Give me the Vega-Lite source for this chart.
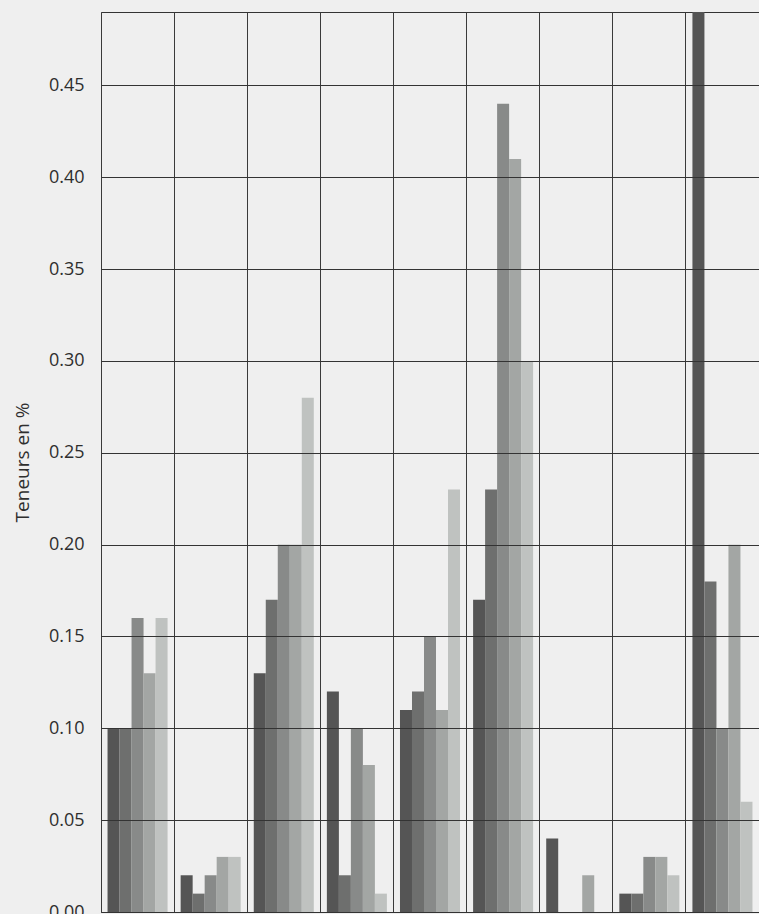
{
  "$schema": "https://vega.github.io/schema/vega-lite/v6.json",
  "width": 658,
  "height": 900,
  "autosize": {"type": "none"},
  "padding": {"left": 101, "top": 12, "right": 0, "bottom": 2},
  "background": "#efefef",
  "config": {
    "view": {"stroke": "#333333", "strokeWidth": 1},
    "font": "Open Sans"
  },
  "data": {
    "values": [
      {"group": "G1", "series": "S1", "value": 0.10},
      {"group": "G1", "series": "S2", "value": 0.10},
      {"group": "G1", "series": "S3", "value": 0.16},
      {"group": "G1", "series": "S4", "value": 0.13},
      {"group": "G1", "series": "S5", "value": 0.16},
      {"group": "G2", "series": "S1", "value": 0.02},
      {"group": "G2", "series": "S2", "value": 0.01},
      {"group": "G2", "series": "S3", "value": 0.02},
      {"group": "G2", "series": "S4", "value": 0.03},
      {"group": "G2", "series": "S5", "value": 0.03},
      {"group": "G3", "series": "S1", "value": 0.13},
      {"group": "G3", "series": "S2", "value": 0.17},
      {"group": "G3", "series": "S3", "value": 0.20},
      {"group": "G3", "series": "S4", "value": 0.20},
      {"group": "G3", "series": "S5", "value": 0.28},
      {"group": "G4", "series": "S1", "value": 0.12},
      {"group": "G4", "series": "S2", "value": 0.02},
      {"group": "G4", "series": "S3", "value": 0.10},
      {"group": "G4", "series": "S4", "value": 0.08},
      {"group": "G4", "series": "S5", "value": 0.01},
      {"group": "G5", "series": "S1", "value": 0.11},
      {"group": "G5", "series": "S2", "value": 0.12},
      {"group": "G5", "series": "S3", "value": 0.15},
      {"group": "G5", "series": "S4", "value": 0.11},
      {"group": "G5", "series": "S5", "value": 0.23},
      {"group": "G6", "series": "S1", "value": 0.17},
      {"group": "G6", "series": "S2", "value": 0.23},
      {"group": "G6", "series": "S3", "value": 0.44},
      {"group": "G6", "series": "S4", "value": 0.41},
      {"group": "G6", "series": "S5", "value": 0.30},
      {"group": "G7", "series": "S1", "value": 0.04},
      {"group": "G7", "series": "S2", "value": 0.0},
      {"group": "G7", "series": "S3", "value": 0.0},
      {"group": "G7", "series": "S4", "value": 0.02},
      {"group": "G7", "series": "S5", "value": 0.0},
      {"group": "G8", "series": "S1", "value": 0.01},
      {"group": "G8", "series": "S2", "value": 0.01},
      {"group": "G8", "series": "S3", "value": 0.03},
      {"group": "G8", "series": "S4", "value": 0.03},
      {"group": "G8", "series": "S5", "value": 0.02},
      {"group": "G9", "series": "S1", "value": 0.49},
      {"group": "G9", "series": "S2", "value": 0.18},
      {"group": "G9", "series": "S3", "value": 0.10},
      {"group": "G9", "series": "S4", "value": 0.20},
      {"group": "G9", "series": "S5", "value": 0.06}
    ]
  },
  "mark": {"type": "bar", "clip": true},
  "encoding": {
    "x": {
      "field": "group",
      "type": "nominal",
      "scale": {"paddingInner": 0, "paddingOuter": 0},
      "axis": {
        "title": null,
        "labels": false,
        "ticks": false,
        "domain": false,
        "grid": true,
        "bandPosition": 0,
        "gridColor": "#3a3a3a",
        "gridOpacity": 1,
        "gridWidth": 1,
        "zindex": 1
      }
    },
    "xOffset": {
      "field": "series",
      "type": "nominal",
      "scale": {"paddingInner": 0, "paddingOuter": 0.545}
    },
    "y": {
      "field": "value",
      "type": "quantitative",
      "scale": {"domain": [0, 0.49], "nice": false, "zero": true},
      "axis": {
        "title": "Teneurs en %",
        "titleFont": "Open Sans",
        "titleFontSize": 19,
        "titleFontWeight": "normal",
        "titleColor": "#2e2e2e",
        "titlePadding": 16,
        "values": [0, 0.05, 0.1, 0.15, 0.2, 0.25, 0.3, 0.35, 0.4, 0.45],
        "format": ".2f",
        "labelFont": "Open Sans",
        "labelFontSize": 18,
        "labelColor": "#2e2e2e",
        "labelPadding": 17,
        "ticks": false,
        "domain": false,
        "grid": true,
        "gridColor": "#333333",
        "gridOpacity": 1,
        "gridWidth": 1,
        "zindex": 1
      }
    },
    "color": {
      "field": "series",
      "type": "nominal",
      "legend": null,
      "scale": {
        "domain": ["S1", "S2", "S3", "S4", "S5"],
        "range": ["#555555", "#6e6f6e", "#888a89", "#a3a6a4", "#bfc2c0"]
      }
    }
  }
}
